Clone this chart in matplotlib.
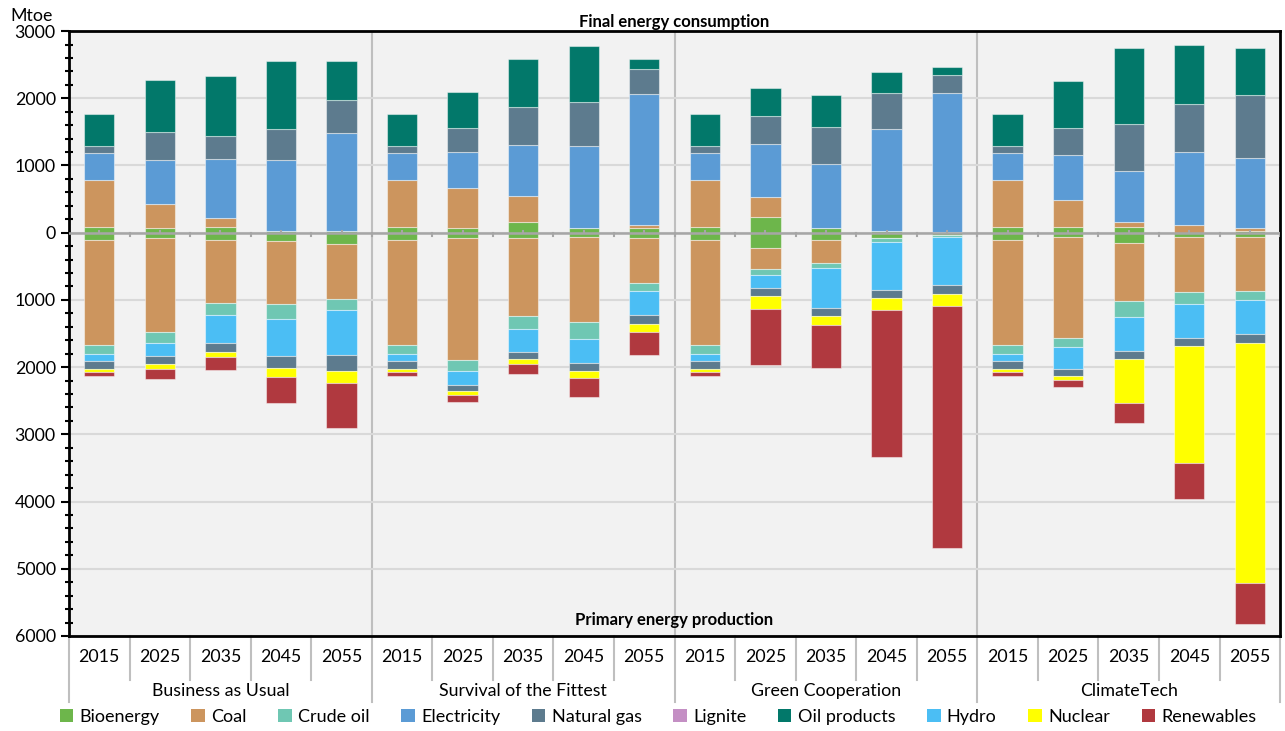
import numpy as np
import matplotlib
matplotlib.use("Agg")
import matplotlib.pyplot as plt
from matplotlib.patches import Patch
from matplotlib.ticker import FuncFormatter, MultipleLocator

plt.rcParams['font.family'] = ['Lato', 'DejaVu Sans']

scenarios = ['Business as Usual', 'Survival of the Fittest', 'Green Cooperation', 'ClimateTech']
years = ['2015', '2025', '2035', '2045', '2055']

# final energy consumption (Mtoe), 4 scenarios x 5 years
bio_c = [90, 75, 90, 20, 30,   90, 65, 160, 65, 70,   90, 240, 75, 20, 15,   90, 80, 80, 0, 20]
coal_c = [700, 350, 135, 0, 0,   700, 605, 390, 0, 50,   700, 285, 0, 0, 0,   700, 405, 80, 120, 50]
elec_c = [395, 655, 870, 1055, 1450,   395, 535, 760, 1225, 1940,   395, 795, 945, 1530, 2060,   395, 665, 760, 1080, 1045]
gas_c = [110, 415, 340, 465, 495,   110, 360, 560, 655, 380,   110, 415, 550, 525, 270,   110, 415, 695, 710, 930]
oilp_c = [475, 775, 895, 1010, 580,   475, 535, 715, 835, 145,   475, 420, 480, 315, 115,   475, 685, 1140, 885, 700]

# primary energy production (Mtoe), drawn downwards
bio_p = [115, 75, 105, 120, 165,   115, 75, 75, 60, 75,   115, 235, 115, 85, 35,   115, 65, 150, 60, 65]
coal_p = [1550, 1400, 935, 935, 820,   1550, 1820, 1160, 1270, 670,   1550, 305, 335, 0, 0,   1550, 1500, 870, 815, 795]
crude_p = [140, 170, 190, 230, 165,   140, 160, 200, 255, 125,   140, 90, 80, 50, 25,   140, 140, 235, 180, 135]
hydro_p = [105, 195, 405, 545, 665,   105, 205, 340, 350, 355,   105, 200, 585, 720, 720,   105, 320, 505, 505, 505]
gas_p = [115, 120, 135, 190, 240,   115, 100, 110, 125, 135,   115, 110, 130, 110, 125,   115, 105, 115, 125, 140]
nuc_p = [50, 75, 85, 130, 185,   50, 60, 70, 105, 120,   50, 190, 135, 190, 180,   50, 60, 665, 1745, 3565]
ren_p = [50, 135, 185, 385, 665,   50, 105, 150, 280, 340,   50, 845, 630, 2185, 3600,   50, 100, 290, 525, 610]

colors = {
    'Bioenergy': '#6DB64B',
    'Coal': '#CC955E',
    'Crude oil': '#6FC7B3',
    'Electricity': '#5B9BD5',
    'Natural gas': '#5D7B8E',
    'Lignite': '#C48FC4',
    'Oil products': '#02786A',
    'Hydro': '#4BBEF4',
    'Nuclear': '#FFFF00',
    'Renewables': '#B0393F',
}

cons = [('Bioenergy', bio_c), ('Coal', coal_c), ('Electricity', elec_c),
        ('Natural gas', gas_c), ('Oil products', oilp_c)]
prod = [('Bioenergy', bio_p), ('Coal', coal_p), ('Crude oil', crude_p), ('Hydro', hydro_p),
        ('Natural gas', gas_p), ('Nuclear', nuc_p), ('Renewables', ren_p)]

n = len(scenarios) * len(years)
x = np.arange(n)
fs = 12.8

fig = plt.figure(figsize=(12.85, 7.31), dpi=100)
ax = fig.add_axes([0.0537, 0.130, 0.9425, 0.8275])
ax.set_facecolor('#F2F2F2')

bottom = np.zeros(n)
for name, vals in cons:
    v = np.array(vals, dtype=float)
    ax.bar(x, v, 0.5, bottom=bottom, color=colors[name],
           edgecolor=(1, 1, 1, 0.45), linewidth=0.8, zorder=3)
    bottom += v

bottom = np.zeros(n)
for name, vals in prod:
    v = -np.array(vals, dtype=float)
    ax.bar(x, v, 0.5, bottom=bottom, color=colors[name],
           edgecolor=(1, 1, 1, 0.45), linewidth=0.8, zorder=3)
    bottom += v

ax.set_xlim(-0.5, n - 0.5)
ax.set_ylim(-6000, 3000)
ax.yaxis.set_major_locator(MultipleLocator(1000))
ax.yaxis.set_minor_locator(MultipleLocator(200))
ax.yaxis.set_major_formatter(FuncFormatter(lambda v, p: f'{abs(v):.0f}'))
ax.tick_params(axis='y', which='major', direction='out', length=6, width=1.5, labelsize=fs)
ax.tick_params(axis='y', which='minor', direction='inout', length=6, width=1.5)
ax.grid(axis='y', color='#D9D9D9', linewidth=1.5, zorder=0)
ax.set_xticks([])
for s in ax.spines.values():
    s.set_color('black')
    s.set_linewidth(2)

# zero line with category ticks
ax.axhline(0, color='#A6A6A6', linewidth=1.8, zorder=4)
for i in range(n):
    ax.plot([i, i], [0, 30], color='#A6A6A6', linewidth=1.5, zorder=4)
    ax.plot([i + 0.5, i + 0.5], [0, -45], color='#A6A6A6', linewidth=1.5, zorder=4)

# scenario separators inside the plot
for k in range(1, len(scenarios)):
    ax.axvline(k * 5 - 0.5, color='#BFBFBF', linewidth=1.5, zorder=1)

ax.text(0.5, 1.002, 'Final energy consumption', transform=ax.transAxes,
        ha='center', va='bottom', fontsize=12, fontweight='bold')
ax.text(0.5, 0.013, 'Primary energy production', transform=ax.transAxes,
        ha='center', va='bottom', fontsize=12, fontweight='bold')
fig.text(10 / 1285, 1 - 16 / 731, 'Mtoe', ha='left', va='center', fontsize=fs)

# category axis below the plot
trans = ax.get_xaxis_transform()
yr_h = -44 / 605.0
grp_h = -66 / 605.0
for i in range(n):
    ax.text(i, -21 / 605.0, years[i % 5], transform=trans, ha='center', va='center',
            fontsize=fs, clip_on=False)
for i in range(n + 1):
    h = grp_h if i % 5 == 0 else yr_h
    ax.plot([i - 0.5, i - 0.5], [0, h], transform=trans, color='#BFBFBF',
            linewidth=1.5, clip_on=False)
for g, name in enumerate(scenarios):
    ax.text(g * 5 + 2, -55 / 605.0, name, transform=trans, ha='center', va='center',
            fontsize=fs, clip_on=False)

handles = [Patch(facecolor=c, edgecolor='none', label=k) for k, c in colors.items()]
fig.legend(handles=handles, loc='center', bbox_to_anchor=(658 / 1285, 1 - 717 / 731),
           ncol=10, frameon=False, fontsize=13, handlelength=0.75, handleheight=0.75,
           handletextpad=0.35, columnspacing=1.75, borderaxespad=0)

fig.savefig('out.png', dpi=100)
